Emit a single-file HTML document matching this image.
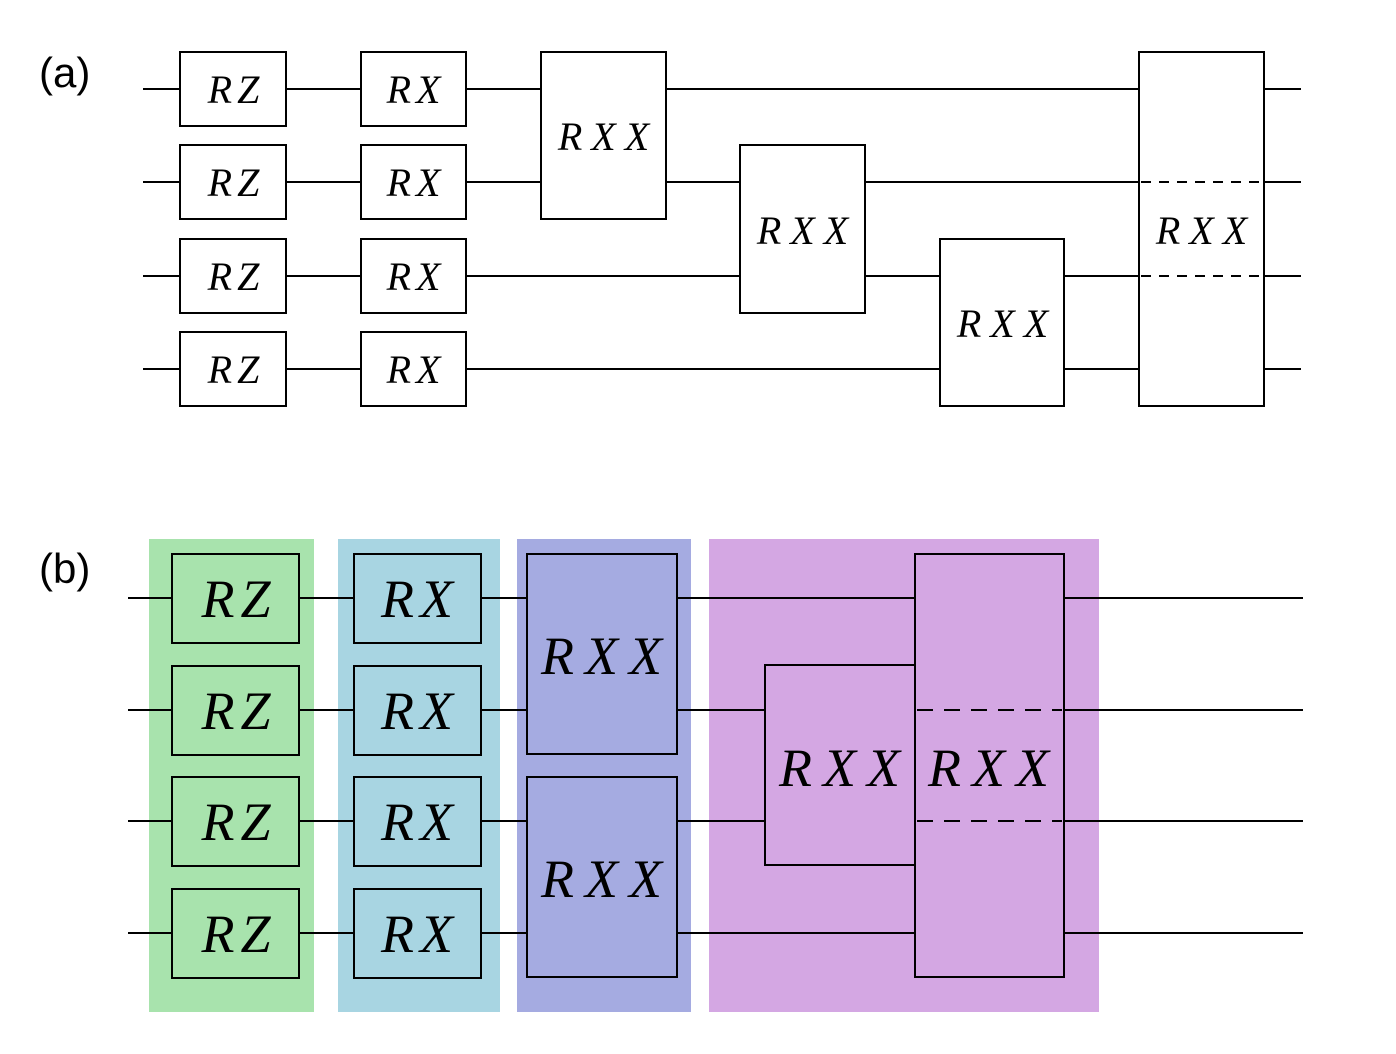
<!DOCTYPE html>
<html><head><style>body{margin:0;background:#fff}svg{display:block}</style></head><body>
<svg width="1396" height="1054" xmlns="http://www.w3.org/2000/svg" font-family="Liberation Serif, serif" font-style="italic" text-anchor="middle">
<text x="39" y="87" text-anchor="start" font-family="Liberation Sans, sans-serif" font-style="normal" font-size="42">(a)</text>
<text x="39" y="583" text-anchor="start" font-family="Liberation Sans, sans-serif" font-style="normal" font-size="42">(b)</text>
<g stroke="#000" stroke-width="2" fill="none">
<line x1="143" y1="89" x2="1301" y2="89"/><line x1="143" y1="182" x2="1301" y2="182"/>
<line x1="143" y1="276" x2="1301" y2="276"/><line x1="143" y1="369" x2="1301" y2="369"/>
</g>
<g stroke="#000" stroke-width="2" fill="#fff">
<rect x="180" y="52" width="106" height="74"/><rect x="180" y="145" width="106" height="74"/>
<rect x="180" y="239" width="106" height="74"/><rect x="180" y="332" width="106" height="74"/>
<rect x="361" y="52" width="105" height="74"/><rect x="361" y="145" width="105" height="74"/>
<rect x="361" y="239" width="105" height="74"/><rect x="361" y="332" width="105" height="74"/>
<rect x="541" y="52" width="125" height="167"/><rect x="740" y="145" width="125" height="168"/>
<rect x="940" y="239" width="124" height="167"/><rect x="1139" y="52" width="125" height="354"/>
</g>
<g stroke="#000" stroke-width="2" stroke-dasharray="10,8"><line x1="1141" y1="182" x2="1262" y2="182"/><line x1="1141" y1="276" x2="1262" y2="276"/></g>
<g font-size="40" letter-spacing="5">
<text x="236" y="103">RZ</text><text x="236" y="196">RZ</text><text x="236" y="290">RZ</text><text x="236" y="383">RZ</text>
<text x="416" y="103">RX</text><text x="416" y="196">RX</text><text x="416" y="290">RX</text><text x="416" y="383">RX</text>
</g>
<g font-size="40" letter-spacing="9">
<text x="608" y="150">RXX</text><text x="807" y="244">RXX</text><text x="1007" y="337">RXX</text><text x="1206" y="244">RXX</text>
</g>
<rect x="149" y="539" width="165" height="473" fill="#a8e3ad"/>
<rect x="338" y="539" width="162" height="473" fill="#a8d5e2"/>
<rect x="517" y="539" width="174" height="473" fill="#a5abe1"/>
<rect x="709" y="539" width="390" height="473" fill="#d4a7e3"/>
<g stroke="#000" stroke-width="2">
<line x1="128" y1="598" x2="1303" y2="598"/><line x1="128" y1="710" x2="1303" y2="710"/>
<line x1="128" y1="821" x2="1303" y2="821"/><line x1="128" y1="933" x2="1303" y2="933"/>
</g>
<g stroke="#000" stroke-width="2">
<rect x="172" y="554" width="127" height="89" fill="#a8e3ad"/><rect x="172" y="666" width="127" height="89" fill="#a8e3ad"/>
<rect x="172" y="777" width="127" height="89" fill="#a8e3ad"/><rect x="172" y="889" width="127" height="89" fill="#a8e3ad"/>
<rect x="354" y="554" width="127" height="89" fill="#a8d5e2"/><rect x="354" y="666" width="127" height="89" fill="#a8d5e2"/>
<rect x="354" y="777" width="127" height="89" fill="#a8d5e2"/><rect x="354" y="889" width="127" height="89" fill="#a8d5e2"/>
<rect x="527" y="554" width="150" height="200" fill="#a5abe1"/><rect x="527" y="777" width="150" height="200" fill="#a5abe1"/>
<rect x="765" y="665" width="150" height="200" fill="#d4a7e3"/><rect x="915" y="554" width="149" height="423" fill="#d4a7e3"/>
</g>
<g stroke="#000" stroke-width="2" stroke-dasharray="16,11"><line x1="917" y1="710" x2="1062" y2="710"/><line x1="917" y1="821" x2="1062" y2="821"/></g>
<g font-size="54" letter-spacing="6">
<text x="239" y="617">RZ</text><text x="239" y="729">RZ</text><text x="239" y="840">RZ</text><text x="239" y="952">RZ</text>
<text x="420" y="617">RX</text><text x="420" y="729">RX</text><text x="420" y="840">RX</text><text x="420" y="952">RX</text>
</g>
<g font-size="54" letter-spacing="11">
<text x="607" y="674">RXX</text><text x="607" y="897">RXX</text><text x="845" y="786">RXX</text><text x="994" y="786">RXX</text>
</g>
</svg>
</body></html>
